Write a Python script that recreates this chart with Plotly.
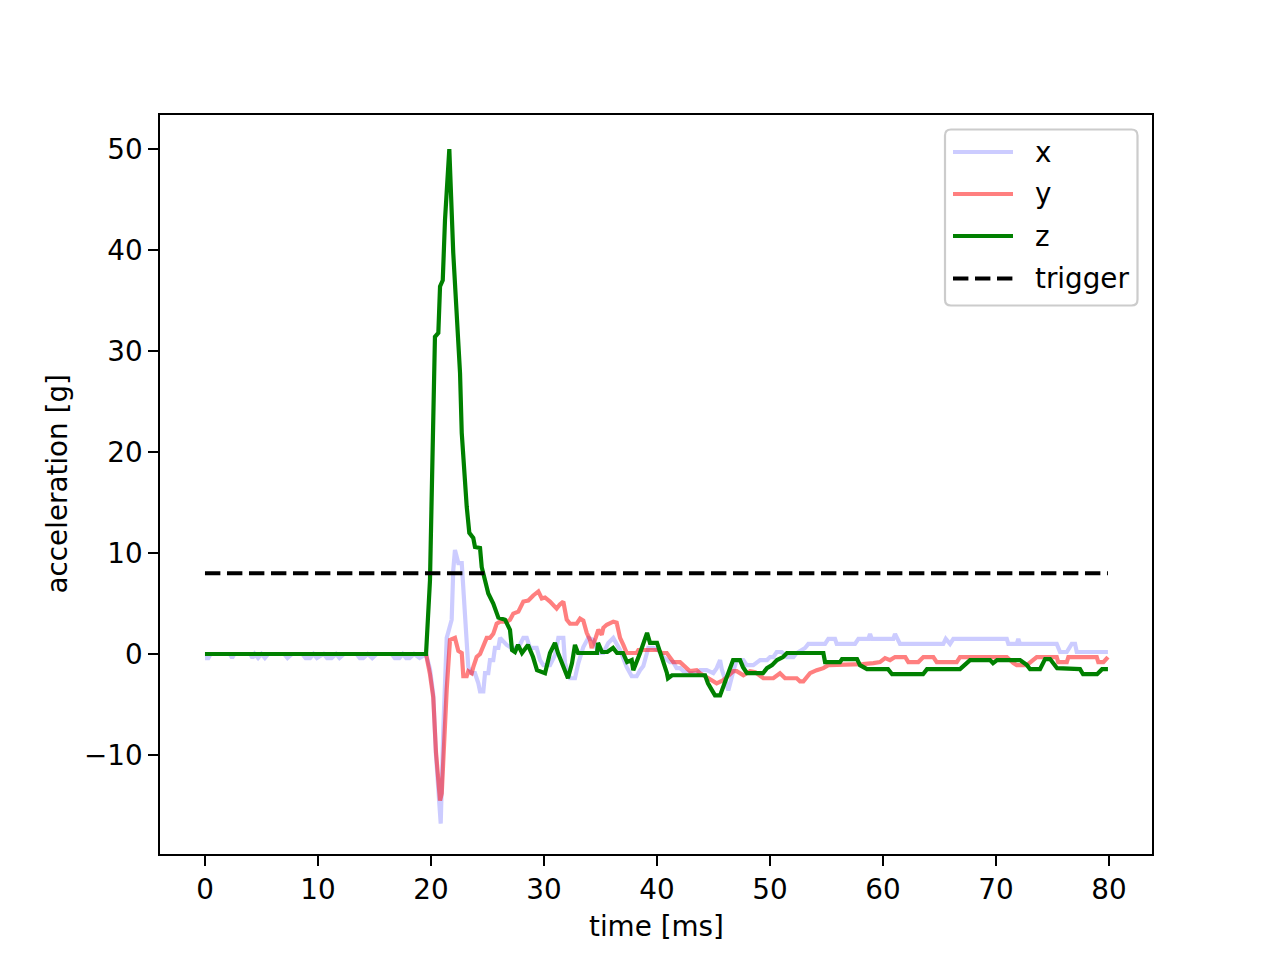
import plotly.graph_objects as go

# ---------------- data ----------------
time_x = [0.0, 0.3, 0.5, 2.2, 2.4, 2.6, 4.0, 4.2, 4.4, 4.7, 5.0, 5.3, 5.6, 7.0, 7.3, 7.7, 8.6, 8.9,
          9.3, 9.6, 9.9, 10.5, 10.8, 11.2, 11.6, 11.9, 12.3, 13.4, 13.7, 14.0, 14.4, 14.8, 15.2,
          15.6, 16.5, 16.8, 17.2, 17.5, 17.8, 18.1, 18.5, 19.0, 19.56,
          19.91, 20.20, 20.44, 20.65, 20.86, 21.09, 21.39, 21.83, 21.97, 22.12, 22.42, 22.72,
          22.86, 23.01, 23.30, 23.60, 23.89, 24.19, 24.34, 24.63, 24.78, 25.07, 25.22, 25.51,
          25.66, 25.96, 26.11, 26.70, 27.14, 27.73, 28.17, 28.47, 28.76, 29.35, 29.65, 29.94,
          30.53, 30.97, 31.27, 31.71, 31.86, 32.30, 32.74, 33.04, 33.48, 33.92, 34.36, 34.81,
          35.25, 35.69, 36.13, 36.73, 37.32, 37.76, 38.20, 38.50, 38.79, 39.23, 39.67, 40.11,
          40.56, 41.15, 41.44, 41.74, 42.04, 42.33, 42.92, 43.51, 43.81, 44.40, 44.98, 45.28,
          45.58, 45.73, 46.02, 46.31, 46.75, 47.05, 47.64, 47.94, 48.52, 49.12, 49.73, 50.00,
          50.29, 50.59, 51.04, 51.48, 52.07, 52.36, 53.10, 53.39, 54.87, 55.16, 55.75, 55.90,
          57.52, 57.82, 58.70, 58.85, 59.00, 60.91, 61.06, 61.27, 61.50, 65.33, 65.55, 65.93,
          66.22, 70.95, 71.09, 71.83, 71.97, 72.12, 75.37, 75.66, 76.26, 76.70, 76.99, 77.14,
          79.90]
accel_x = [-0.4, -0.4, 0, 0, -0.4, 0, 0, -0.4, 0, -0.4, 0, -0.4, 0, 0, -0.4, 0, 0, -0.4,
           -0.4, 0, -0.4, 0, -0.4, -0.4, 0, -0.4, 0, 0, -0.4, -0.4, 0, -0.4, 0,
           0, 0, -0.4, -0.4, 0, -0.4, -0.4, 0, -0.4, 0,
           -1.5, -4.0, -10.0, -14.0, -16.8, -7.4, 1.6, 3.4, 8.3, 10.3, 9.0, 9.0,
           6.7, 3.4, -1.3, -1.9, -1.9, -2.9, -3.7, -3.7, -1.9, -1.9, -0.6, -0.6,
           0.6, 0.6, 1.6, 0.9, 0.6, 0.6, 1.6, 1.6, 0.6, 0.6, -0.6, -1.1,
           -1.1, -0.1, 1.6, 1.6, -0.9, -2.4, -2.4, -0.9, 0.7, 1.6, 1.4, 0.1,
           0.1, 1.1, 1.6, 0.4, -1.3, -2.2, -2.2, -1.6, -1.2, 0.6, 0.6, 0.4,
           -0.3, -0.8, -0.8, -1.4, -1.4, -1.7, -1.9, -1.9, -1.6, -1.6, -1.9, -1.4,
           -0.6, -1.5, -2.6, -3.6, -1.7, -0.6, -0.6, -1.1, -1.1, -0.6, -0.6, -0.3,
           -0.3, 0.2, 0.2, -0.3, -0.3, 0.1, 0.6, 1.0, 1.0, 1.5, 1.5, 1.0,
           1.0, 1.5, 1.5, 2.0, 1.5, 1.5, 2.0, 1.5, 1.0, 1.0, 1.5, 1.0,
           1.5, 1.5, 1.0, 1.0, 1.5, 1.0, 1.0, 0.2, 0.2, 1.0, 1.0, 0.2,
           0.2]

time_y = [0.0, 19.56, 19.91, 20.20, 20.44, 20.65, 20.80, 20.95, 21.09, 21.39, 21.68, 22.12,
          22.42, 22.72, 22.86, 23.16, 23.30, 23.60, 23.74, 24.04, 24.34, 24.63, 24.93, 25.22,
          25.51, 25.81, 26.11, 26.70, 26.99, 27.28, 27.73, 28.17, 28.61, 29.05, 29.50, 29.80,
          30.09, 30.53, 31.12, 31.40, 31.71, 32.01, 32.30, 32.89, 33.19, 33.48, 33.78, 34.07,
          34.22, 34.51, 34.81, 35.11, 35.25, 35.55, 36.13, 36.43, 36.73, 37.02, 37.32, 38.20,
          38.35, 40.11, 40.42, 40.86, 41.15, 41.44, 42.04, 42.48, 42.92, 43.51, 43.81, 44.25,
          44.84, 45.28, 45.87, 46.31, 46.75, 47.05, 47.64, 48.23, 48.70, 49.41, 50.29, 50.88,
          51.33, 52.36, 52.65, 52.95, 53.25, 53.54, 54.13, 54.72, 55.16, 57.67, 58.20, 59.14,
          59.73, 60.18, 60.62, 61.06, 61.97, 62.24, 63.12, 63.57, 64.45, 64.75, 66.52, 66.81,
          70.95, 71.53, 71.83, 72.72, 73.01, 73.60, 75.37, 75.50, 76.26, 76.40, 78.91, 79.05,
          79.50, 79.80, 79.90]
accel_y = [0.0, 0.0, -2.0, -4.3, -9.7, -13.4, -14.5, -13.8, -9.7, -3.5, 1.4, 1.6,
           0.3, 0.1, -2.2, -2.2, -1.7, -1.9, -1.3, -0.3, 0.0, 0.7, 1.6, 1.6,
           2.0, 3.0, 3.2, 3.2, 3.4, 4.0, 4.2, 5.2, 5.3, 5.8, 6.2, 5.5,
           5.6, 5.2, 4.5, 4.9, 5.2, 3.4, 3.0, 3.0, 3.5, 3.3, 2.1, 1.4,
           0.6, 1.4, 2.4, 1.9, 2.6, 2.9, 3.2, 3.1, 1.6, 0.9, 0.1, 0.1,
           0.4, 0.4, 0.1, 0.1, -0.4, -0.8, -0.8, -1.3, -1.7, -1.6, -1.9, -2.2,
           -2.6, -2.9, -2.6, -2.2, -1.7, -1.7, -2.1, -1.7, -1.8, -2.4, -2.4, -1.9,
           -2.4, -2.4, -2.7, -2.7, -2.2, -1.9, -1.6, -1.4, -1.1, -1.1, -1.0, -0.9,
           -0.8, -0.4, -0.6, -0.3, -0.3, -0.8, -0.8, -0.3, -0.3, -0.8, -0.8, -0.3,
           -0.3, -0.9, -1.1, -1.1, -0.8, -0.3, -0.3, -0.8, -0.8, -0.3, -0.3, -0.8,
           -0.8, -0.3, -0.3]

time_z = [0.0, 19.56, 19.91, 20.35, 20.65, 20.80, 21.04, 21.24, 21.62, 21.97,
          22.57, 22.72, 23.16, 23.39, 23.74, 23.89, 24.34, 24.49, 24.78, 25.07, 25.51,
          25.96, 26.55, 26.99, 27.17, 27.43, 27.70, 28.05, 28.58, 29.03, 29.38, 30.09, 30.53,
          30.97, 31.24, 31.86, 32.12, 32.48, 32.74, 33.01, 34.69, 34.78, 35.13, 35.60, 36.11,
          36.46, 36.99, 37.35, 37.76, 37.90, 38.20, 38.50, 39.12, 39.38, 40.00, 40.44, 40.88,
          40.97, 41.33, 44.25, 44.51, 44.87, 45.13, 45.58, 45.84, 46.28, 46.73, 47.35, 47.61,
          47.96, 49.38, 49.73, 50.18, 50.62, 51.15, 51.50, 54.72, 54.87, 56.19, 56.37, 57.70,
          57.96, 58.58, 60.44, 60.80, 63.54, 63.89, 66.81, 67.70, 69.47, 69.73, 70.09, 72.12,
          72.74, 73.01, 73.89, 74.34, 74.78, 75.40, 77.43, 77.70, 78.94, 79.38, 79.90]
accel_z = [0.0, 0.0, 7.3, 31.4, 31.8, 36.4, 37.0, 43.0, 50.0, 39.7,
           27.8, 21.9, 14.6, 12.0, 11.5, 10.6, 10.5, 8.6, 7.3, 6.0, 5.0,
           3.6, 3.4, 2.4, 0.4, 0.2, 0.9, 0.1, 0.9, -0.3, -1.6, -1.9, 0.1,
           1.1, 0.1, -1.6, -2.4, -0.9, 0.9, 0.1, 0.1, 1.1, 0.2, 0.2, 0.6,
           0.1, 0.1, -0.8, -0.6, -1.6, -0.6, 0.1, 2.1, 1.1, 1.1, -0.3, -1.9,
           -2.4, -2.1, -2.1, -2.9, -3.6, -4.1, -4.1, -3.3, -1.9, -0.6, -0.6, -1.3,
           -1.9, -1.9, -1.4, -1.1, -0.6, -0.3, 0.1, 0.1, -0.8, -0.8, -0.5, -0.5,
           -1.1, -1.5, -1.5, -2.0, -2.0, -1.5, -1.5, -0.6, -0.6, -0.9, -0.6, -0.6,
           -1.1, -1.5, -1.5, -0.5, -0.5, -1.4, -1.5, -2.0, -2.0, -1.5, -1.5]

trigger_time = [0.0, 79.9]
trigger_level = [8.0, 8.0]

series_names = ["x", "y", "z", "trigger"]
x_ticks = [0, 10, 20, 30, 40, 50, 60, 70, 80]
y_ticks = [-10, 0, 10, 20, 30, 40, 50]
x_label = "time [ms]"
y_label = "acceleration [g]"

# ---------------- styling ----------------
W, H = 1280, 960
L, R, T, B = 160, 1152, 115, 854  # plot area in pixels
FONT = "DejaVu Sans"
FS = 27.8
LW = 4.2

colors = ["rgba(0,0,255,0.2)", "rgba(255,0,0,0.5)", "#008000", "#000000"]
dashes = ["solid", "solid", "solid", "15.4px,6.6px"]


def px_x(p):
    return (p - L) / (R - L)


def px_y(p):
    return (B - p) / (B - T)


fig = go.Figure()
for t, v, name, c, d in zip([time_x, time_y, time_z, trigger_time],
                            [accel_x, accel_y, accel_z, trigger_level],
                            series_names, colors, dashes):
    fig.add_trace(go.Scatter(x=t, y=v, mode="lines", name=name,
                             line=dict(color=c, width=LW, dash=d),
                             showlegend=False, hoverinfo="skip"))


def tick_text(v):
    return str(v).replace("-", "\u2212")


axis_common = dict(
    showline=True, linecolor="black", linewidth=2.2, mirror=True,
    ticks="outside", ticklen=9.7, tickwidth=2.2, tickcolor="black",
    showgrid=False, zeroline=False,
    tickfont=dict(family=FONT, size=FS, color="black"),
)

fig.update_xaxes(range=[-3.98, 83.8], tickvals=x_ticks,
                 ticktext=[tick_text(v) for v in x_ticks], **axis_common)
fig.update_yaxes(range=[-19.8, 53.37], tickvals=y_ticks,
                 ticktext=[tick_text(v) for v in y_ticks], **axis_common)

annotations = [
    dict(text=x_label, xref="paper", yref="paper", x=0.5, y=px_y(926),
         xanchor="center", yanchor="middle", showarrow=False,
         font=dict(family=FONT, size=FS, color="black")),
    dict(text=y_label, xref="paper", yref="paper", x=px_x(57), y=0.5,
         xanchor="center", yanchor="middle", textangle=-90, showarrow=False,
         font=dict(family=FONT, size=FS, color="black")),
]

# ----- legend drawn as a framed box (matplotlib style) -----
bx0, bx1, by0, by1 = 945, 1137.5, 129.5, 305.5
r = 6
fx = px_x
fy = px_y
path = (f"M {fx(bx0 + r)} {fy(by0)} L {fx(bx1 - r)} {fy(by0)} "
        f"Q {fx(bx1)} {fy(by0)} {fx(bx1)} {fy(by0 + r)} "
        f"L {fx(bx1)} {fy(by1 - r)} Q {fx(bx1)} {fy(by1)} {fx(bx1 - r)} {fy(by1)} "
        f"L {fx(bx0 + r)} {fy(by1)} Q {fx(bx0)} {fy(by1)} {fx(bx0)} {fy(by1 - r)} "
        f"L {fx(bx0)} {fy(by0 + r)} Q {fx(bx0)} {fy(by0)} {fx(bx0 + r)} {fy(by0)} Z")
shapes = [dict(type="path", xref="paper", yref="paper", path=path,
               line=dict(color="#cccccc", width=2.2), fillcolor="rgba(255,255,255,0.8)",
               layer="above")]
rows = [152, 194, 236, 278.5]
for name, c, d, ry in zip(series_names, colors, dashes, rows):
    shapes.append(dict(type="line", xref="paper", yref="paper",
                       x0=fx(953), x1=fx(1013), y0=fy(ry), y1=fy(ry),
                       line=dict(color=c, width=LW, dash=d), layer="above"))
    annotations.append(dict(text=name, xref="paper", yref="paper",
                            x=fx(1033), y=fy(ry), xanchor="left", yanchor="middle",
                            showarrow=False,
                            font=dict(family=FONT, size=FS, color="black")))

fig.update_layout(
    width=W, height=H, autosize=False,
    margin=dict(l=L, r=W - R, t=T, b=H - B, pad=0),
    paper_bgcolor="white", plot_bgcolor="white",
    showlegend=False,
    annotations=annotations, shapes=shapes,
    font=dict(family=FONT, size=FS, color="black"),
)

fig.write_html("out.html")
